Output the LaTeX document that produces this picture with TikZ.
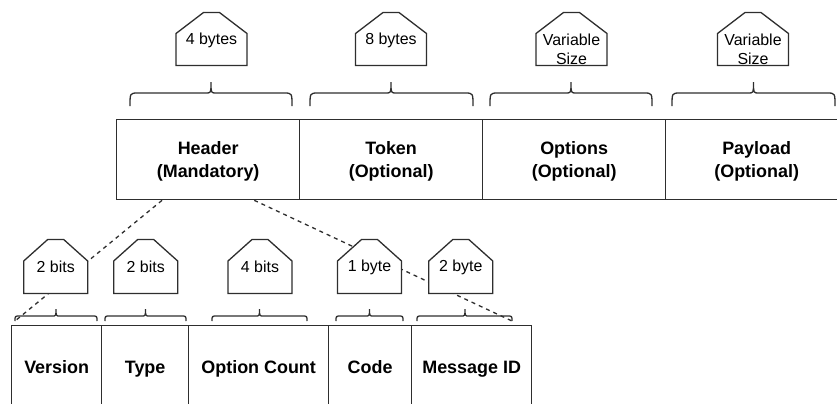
\documentclass[tikz,border=0pt]{standalone}
\usepackage{fontspec}
\setmainfont{Liberation Sans}
\usetikzlibrary{calc}
\definecolor{ink}{HTML}{2E2E2E}

% size tag: name, centre x, top y, shoulder y, bottom y, half width, label y, label
\newcommand\sizetag[8]{%
  \filldraw[tagline] (#2-#6,#5) -- (#2-#6,#4) -- (#2-8,#3) -- (#2+8,#3)
    -- (#2+#6,#4) -- (#2+#6,#5) -- cycle;
  \node[taglabel] (#1) at (#2,#7) {#8};
}
% curly brace: left x, right x, tip x, end y, flat y, tip y, end radius, tip radius
\newcommand\sizebrace[8]{%
  \draw[braceline] (#1,#4) .. controls (#1,#5) .. (#1+#7,#5) -- (#3-#8,#5)
    .. controls (#3,#5) .. (#3,#6) .. controls (#3,#5) .. (#3+#8,#5)
    -- (#2-#7,#5) .. controls (#2,#5) .. (#2,#4);
}

\begin{document}
\begin{tikzpicture}[x=1bp,y=-1bp,
  field/.style={draw=ink, line width=1.3bp, minimum width=#1, minimum height=80bp,
    anchor=north west, inner sep=0pt, align=center,
    font=\bfseries\fontsize{18}{23}\selectfont},
  wide/.style={text height=36bp, text depth=0bp},
  narrow/.style={text height=16bp, text depth=0bp},
  tagline/.style={draw=ink, fill=white, line width=1.3bp, line join=miter},
  taglabel/.style={inner sep=0pt, align=center, font=\fontsize{16}{19}\selectfont},
  braceline/.style={draw=ink, line width=1.3bp},
  link/.style={draw=ink, line width=1.3bp, dash pattern=on 4bp off 4bp}]
\useasboundingbox (0,0) rectangle (837,403);
\clip (0,0) rectangle (837,403);

% message fields
\node[field=183bp, wide] (header)  at (116,119)   {Header\\(Mandatory)};
\node[field=183bp, wide] (token)   at (299,119)   {Token\\(Optional)};
\node[field=183bp, wide] (options) at (482,119)   {Options\\(Optional)};
\node[field=183bp, wide] (payload) at (664.5,119) {Payload\\(Optional)};

% header fields
\node[field=90bp, narrow]  (version) at (11,325)  {Version};
\node[field=87bp, narrow]  (type)    at (101,325) {Type};
\node[field=140bp, narrow] (optcnt)  at (188,325) {Option Count};
\node[field=83bp, narrow]  (code)    at (328,325) {Code};
\node[field=120bp, narrow] (msgid)   at (411,325) {Message ID};

% ends of the header breakdown
\coordinate (vstart) at (15,321);
\coordinate (mend)   at (512,321);

% header expands into its fields
\draw[link] ($(header.south west)!0.25!(header.south east)$) -- (vstart);
\draw[link] ($(header.south west)!0.75!(header.south east)$) -- (mend);

% braces over the message fields
\sizebrace{130}{292}{211}{106}{93}{82}{8}{5}
\sizebrace{310}{473}{391}{106}{93}{82}{8}{5}
\sizebrace{490}{652}{571}{106}{93}{82}{8}{5}
\sizebrace{672}{835}{753.5}{106}{93}{82}{8}{5}

% braces over the header fields
\sizebrace{15}{97}{56}{321}{316}{309}{5}{4}
\sizebrace{105}{186}{145.5}{321}{316}{309}{5}{4}
\sizebrace{212}{307}{259.5}{321}{316}{309}{5}{4}
\sizebrace{336}{403}{369.5}{321}{316}{309}{5}{4}
\sizebrace{417}{512}{465}{321}{316}{309}{5}{4}

% size tags of the message fields
\sizetag{szheader}{211.5}{12.5}{33.5}{65.5}{35.5}{40}{4 bytes}
\sizetag{sztoken}{391}{12.5}{33.5}{65.5}{35.5}{40}{8 bytes}
\sizetag{szoptions}{571.5}{12.5}{33.5}{65.5}{35.5}{49.5}{Variable\\Size}
\sizetag{szpayload}{753}{12.5}{33.5}{65.5}{35.5}{49.5}{Variable\\Size}

% size tags of the header fields
\sizetag{szversion}{55.7}{239.5}{261}{293.5}{32}{267}{2 bits}
\sizetag{sztype}{145.7}{239.5}{261}{293.5}{32}{267}{2 bits}
\sizetag{szoptcnt}{260}{239.5}{261}{293.5}{32}{267}{4 bits}
\sizetag{szcode}{369.5}{239.5}{261}{293.5}{32}{267}{1 byte}
\sizetag{szmsgid}{460.8}{239.5}{261}{293.5}{32}{267}{2 byte}
\end{tikzpicture}
\end{document}
